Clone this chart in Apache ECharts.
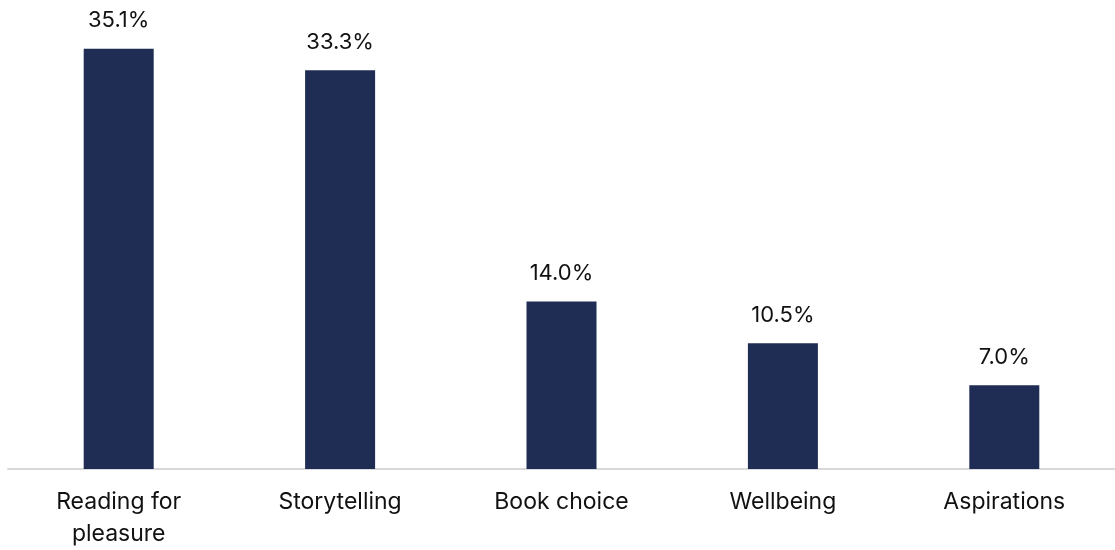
<!DOCTYPE html>
<html>
<head>
<meta charset="utf-8">
<script src="https://cdn.jsdelivr.net/npm/echarts@6/dist/echarts.min.js"></script>
<style>
  html, body { margin: 0; padding: 0; background: #ffffff; }
  #chart { width: 1115px; height: 550px; }
</style>
</head>
<body>
<div id="chart"></div>
<script>
// Share of responses by theme (%)
const categories = ['Reading for\npleasure', 'Storytelling', 'Book choice', 'Wellbeing', 'Aspirations'];
const values = [35.1, 33.3, 14.0, 10.5, 7.0];

const chart = echarts.init(document.getElementById('chart'));
chart.setOption({
  animation: false,
  textStyle: { fontFamily: 'Inter, "Noto Sans", sans-serif' },
  // the last category band runs slightly past the right edge of the canvas
  grid: { left: 8, width: 1116, top: 38, bottom: 75, containLabel: false },
  xAxis: {
    type: 'category',
    data: categories,
    axisLine: { show: true, lineStyle: { color: '#d9d9d9', width: 2 } },
    axisTick: { show: false },
    axisLabel: {
      color: '#111111',
      fontSize: 23,
      lineHeight: 32,
      margin: 17
    }
  },
  yAxis: {
    type: 'value',
    min: 0,
    max: 36,
    show: false,
    splitLine: { show: false }
  },
  series: [{
    type: 'bar',
    data: values,
    barWidth: 70,
    itemStyle: { color: '#1f2d54' },
    label: {
      show: true,
      position: 'top',
      distance: 17,
      color: '#111111',
      fontSize: 22,
      formatter: p => p.value.toFixed(1) + '%'
    }
  }]
});
</script>
</body>
</html>
